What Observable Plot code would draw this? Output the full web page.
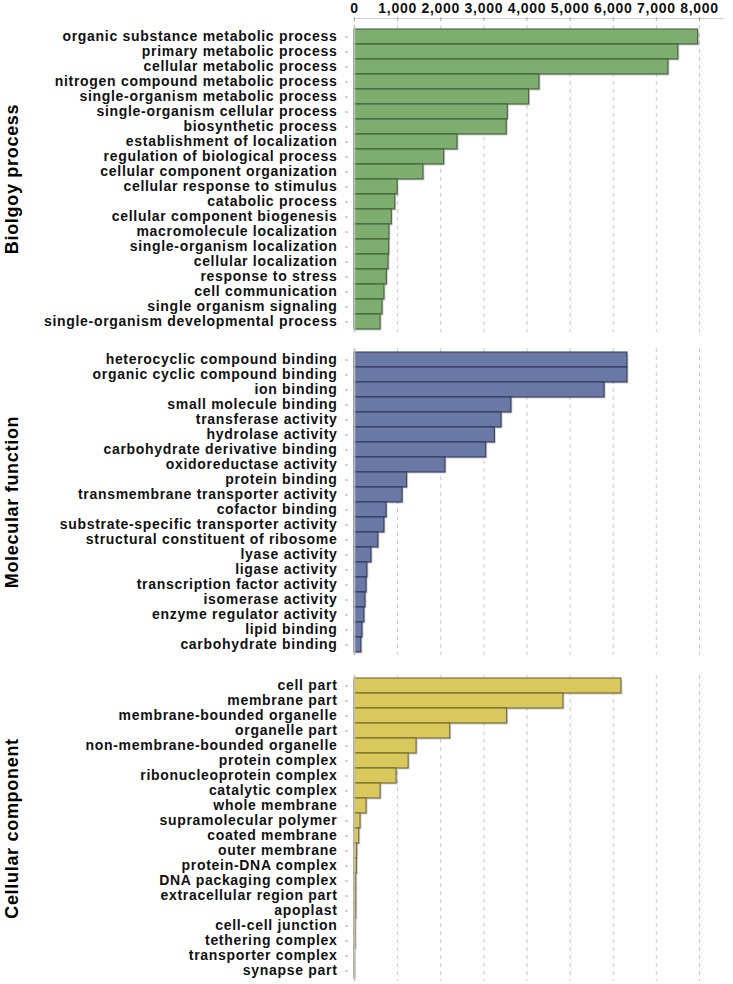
<!DOCTYPE html>
<html>
<head>
<meta charset="utf-8">
<script src="https://cdn.jsdelivr.net/npm/d3@7"></script>
<script src="https://cdn.jsdelivr.net/npm/@observablehq/plot@0.6"></script>
<style>
  body { margin: 0; background: #fff; }
  #chart { width: 733px; }
  #chart svg { display: block; }
</style>
</head>
<body>
<div id="chart"></div>
<script>
const bpTerms = ["organic substance metabolic process","primary metabolic process","cellular metabolic process","nitrogen compound metabolic process","single-organism metabolic process","single-organism cellular process","biosynthetic process","establishment of localization","regulation of biological process","cellular component organization","cellular response to stimulus","catabolic process","cellular component biogenesis","macromolecule localization","single-organism localization","cellular localization","response to stress","cell communication","single organism signaling","single-organism developmental process"];
const bpValues = [7970,7510,7280,4290,4050,3555,3530,2390,2080,1600,1000,945,865,810,805,790,750,695,650,605];

const mfTerms = ["heterocyclic compound binding","organic cyclic compound binding","ion binding","small molecule binding","transferase activity","hydrolase activity","carbohydrate derivative binding","oxidoreductase activity","protein binding","transmembrane transporter activity","cofactor binding","substrate-specific transporter activity","structural constituent of ribosome","lyase activity","ligase activity","transcription factor activity","isomerase activity","enzyme regulator activity","lipid binding","carbohydrate binding"];
const mfValues = [6330,6330,5800,3640,3410,3255,3055,2110,1220,1115,745,695,555,395,300,280,255,230,185,160];

const ccTerms = ["cell part","membrane part","membrane-bounded organelle","organelle part","non-membrane-bounded organelle","protein complex","ribonucleoprotein complex","catalytic complex","whole membrane","supramolecular polymer","coated membrane","outer membrane","protein-DNA complex","DNA packaging complex","extracellular region part","apoplast","cell-cell junction","tethering complex","transporter complex","synapse part"];
const ccValues = [6190,4845,3540,2220,1440,1255,975,605,280,140,110,62,55,40,40,40,25,25,15,15];

const groupNames = ["Biolgoy process","Molecular function","Cellular component"];
const xTicks = [0,1000,2000,3000,4000,5000,6000,7000,8000];
const gridTicks = [1000,2000,3000,4000,5000,6000,7000,8000];

const panels = [
  {name: groupNames[0], terms: bpTerms, values: bpValues, fill: "#7dae6f", stroke: "#3b5a33", mt: 25, area: 307, mb: 8, top: true},
  {name: groupNames[1], terms: mfTerms, values: mfValues, fill: "#6a78a6", stroke: "#2c3356", mt: 8, area: 307, mb: 10, top: false},
  {name: groupNames[2], terms: ccTerms, values: ccValues, fill: "#d9c85b", stroke: "#6a6126", mt: 10, area: 306, mb: 3, top: false}
];

const container = document.getElementById("chart");
const W = 733, ML = 354, MR = 10;
const xMax = 8557;

for (const p of panels) {
  const data = p.terms.map((t, i) => ({term: t, value: p.values[i]}));
  const marks = [
    Plot.ruleX(gridTicks, {stroke: "#c8c8c8", strokeDasharray: "4,4", strokeWidth: 1}),
    Plot.barX(data, {y: "term", x: "value", fill: "#000", fillOpacity: 0.18, dx: 1.5, dy: 1.5}),
    Plot.barX(data, {y: "term", x: "value", fill: p.fill, stroke: p.stroke, strokeWidth: 1}),
    Plot.ruleX([0], {stroke: "#bdbdbd", strokeWidth: 1.5}),
    Plot.axisY({label: null, tickSize: 3, dx: -6, tickPadding: 8, stroke: "#aaa", fontSize: 14, fontWeight: "bold", fill: "#111"}),
    Plot.text([p.name], {frameAnchor: "left", textAnchor: "middle", dx: -342, rotate: -90, fontSize: 18, fontWeight: "bold", fill: "#000", letterSpacing: 0})
  ];
  if (p.top) {
    marks.push(Plot.frame({anchor: "top", stroke: "#cfcfcf", dy: -7}));
    marks.push(Plot.axisX({anchor: "top", label: null, ticks: xTicks, tickFormat: d3.format(","), tickSize: 4, tickPadding: 4, dy: -5, stroke: "#aaa", fontSize: 14, fontWeight: "bold", fill: "#111"}));
  }
  const chart = Plot.plot({
    width: W,
    height: p.mt + p.area + p.mb,
    marginLeft: ML,
    marginRight: MR,
    marginTop: p.mt,
    marginBottom: p.mb,
    x: {domain: [0, xMax], axis: null},
    y: {domain: p.terms, padding: 0, axis: null},
    style: {fontFamily: "'Liberation Sans', Arial, sans-serif", fontSize: "14px", fontWeight: "bold", letterSpacing: "0.7px", background: "#fff", overflow: "visible"},
    marks
  });
  container.appendChild(chart);
}
</script>
</body>
</html>
